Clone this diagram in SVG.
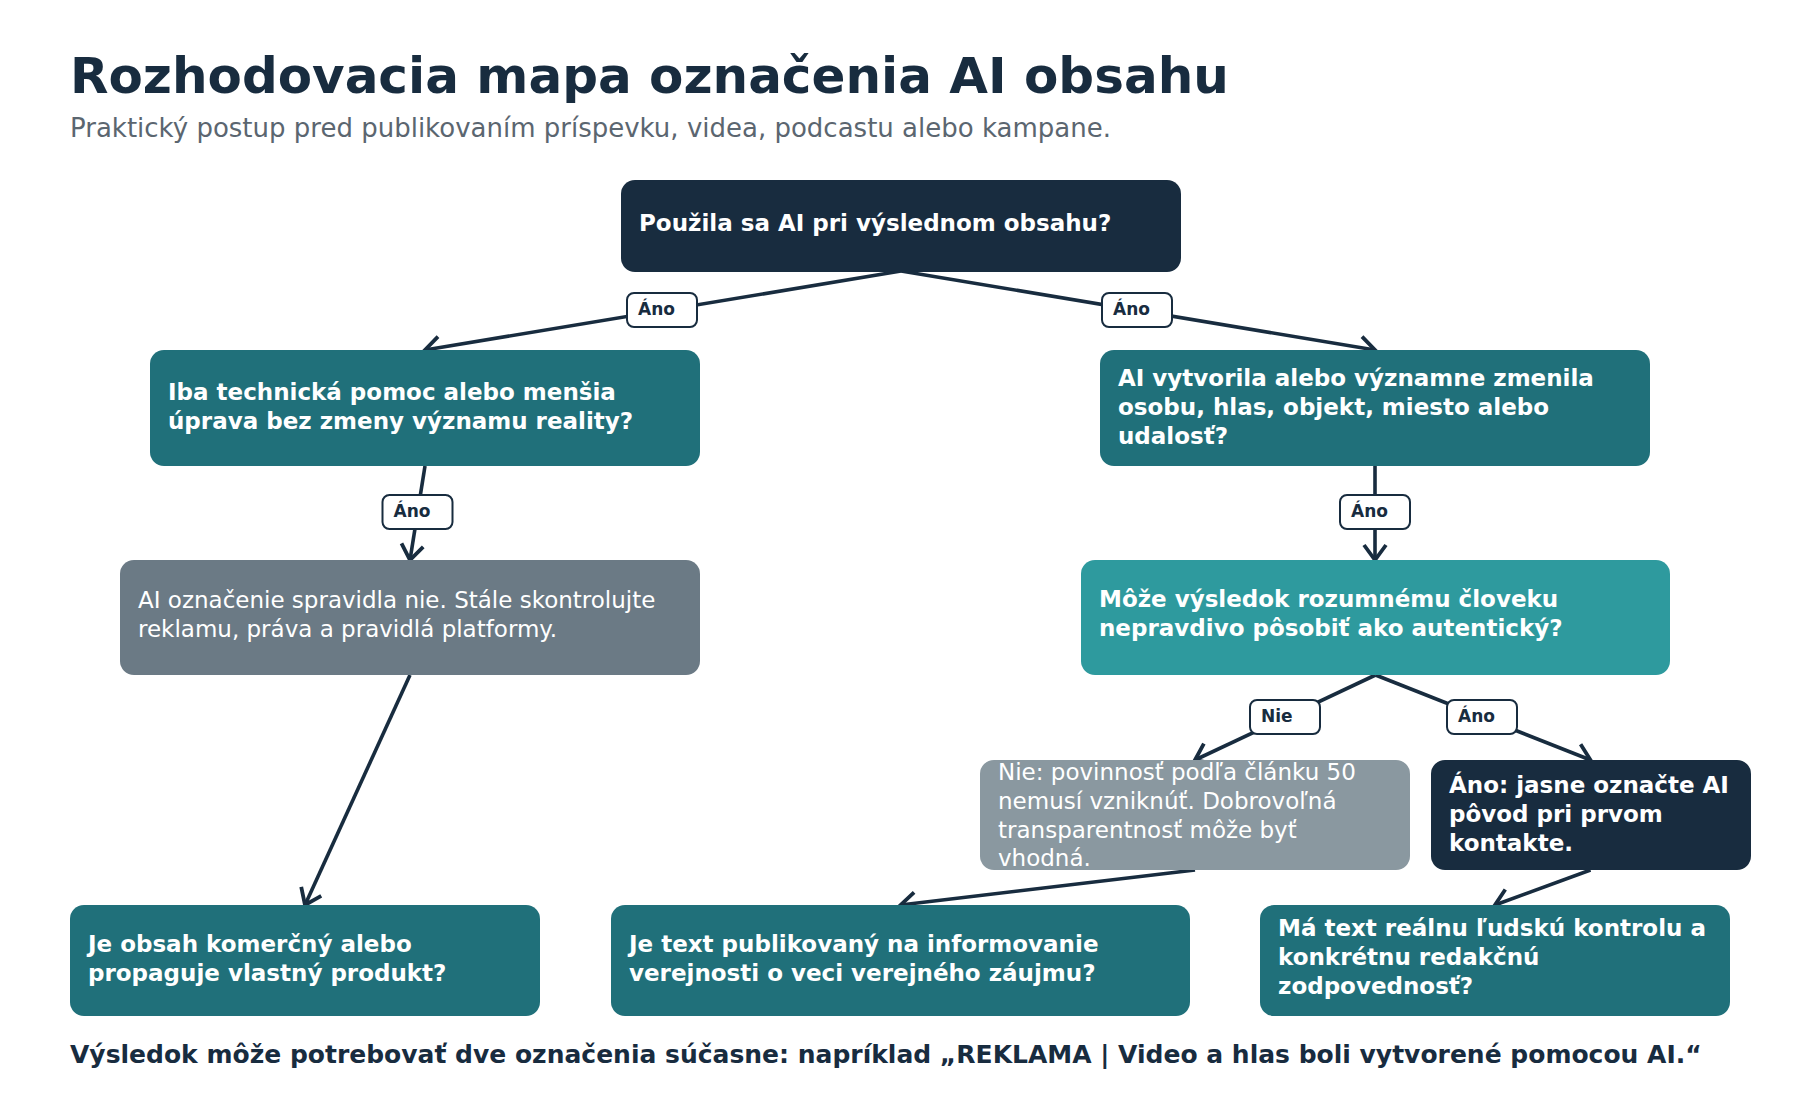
<svg xmlns="http://www.w3.org/2000/svg" width="1800" height="1100" viewBox="0 0 1800 1100">
<style>
  text { font-family: "DejaVu Sans", "Liberation Sans", sans-serif; }
  .title { font-size: 50px; font-weight: bold; fill: #182c3f; }
  .sub { font-size: 26px; fill: #5b6670; }
  .foot { font-size: 25px; font-weight: bold; fill: #182c3f; }
  .nt { font-size: 23px; font-weight: bold; fill: #ffffff; }
  .nn { font-size: 23px; fill: #ffffff; }
  .dark { fill: #182c3f; }
  .teal { fill: #20707a; }
  .lteal { fill: #2e9a9e; }
  .gray { fill: #6b7a85; }
  .lgray { fill: #8a98a0; }
  .edge { stroke: #182c3f; stroke-width: 3.6; fill: none; marker-end: url(#arr); }
  .lbl rect { fill: #ffffff; stroke: #182c3f; stroke-width: 2; }
  .lbl text { font-size: 17px; font-weight: bold; fill: #182c3f; }
</style>
<defs>
  <marker id="arr" viewBox="0 0 20 26" refX="17" refY="13" markerWidth="20" markerHeight="26" markerUnits="userSpaceOnUse" orient="auto">
    <path d="M2,2 L17,13 L2,24" fill="none" stroke="#182c3f" stroke-width="3.8"/>
  </marker>
</defs>
<rect width="1800" height="1100" fill="#ffffff"/>
<text class="title" x="70" y="93">Rozhodovacia mapa označenia AI obsahu</text>
<text class="sub" x="70" y="137">Praktický postup pred publikovaním príspevku, videa, podcastu alebo kampane.</text>

<g id="connectors">
  <path class="edge" d="M901,271 L425,350"/>
  <path class="edge" d="M901,271 L1375,350"/>
  <path class="edge" d="M425,466 L410,560"/>
  <path class="edge" d="M1375,466 L1375,560"/>
  <path class="edge" d="M410,675 L305,905"/>
  <path class="edge" d="M1375.5,675 L1195,760"/>
  <path class="edge" d="M1375.5,675 L1590.5,760"/>
  <path class="edge" d="M1195,870 L900.5,905"/>
  <path class="edge" d="M1590.5,870 L1495,905"/>
  <g class="lbl"><rect x="627" y="293" width="70" height="34" rx="7"/><text x="638" y="314.5">Áno</text></g>
  <g class="lbl"><rect x="1102" y="293" width="70" height="34" rx="7"/><text x="1113" y="314.5">Áno</text></g>
  <g class="lbl"><rect x="382.5" y="495" width="70" height="34" rx="7"/><text x="393.5" y="516.5">Áno</text></g>
  <g class="lbl"><rect x="1340" y="495" width="70" height="34" rx="7"/><text x="1351" y="516.5">Áno</text></g>
  <g class="lbl"><rect x="1250" y="700" width="70" height="34" rx="7"/><text x="1261" y="721.5">Nie</text></g>
  <g class="lbl"><rect x="1447" y="700" width="70" height="34" rx="7"/><text x="1458" y="721.5">Áno</text></g>
</g>

<g id="n-start">
  <rect class="dark" x="621" y="180" width="560" height="92" rx="14"/>
  <text class="nt" x="639" y="231">Použila sa AI pri výslednom obsahu?</text>
</g>
<g id="n-tech">
  <rect class="teal" x="150" y="350" width="550" height="116" rx="14"/>
  <text class="nt" x="168" y="400">Iba technická pomoc alebo menšia</text>
  <text class="nt" x="168" y="429">úprava bez zmeny významu reality?</text>
</g>
<g id="n-created">
  <rect class="teal" x="1100" y="350" width="550" height="116" rx="14"/>
  <text class="nt" x="1118" y="386">AI vytvorila alebo významne zmenila</text>
  <text class="nt" x="1118" y="415">osobu, hlas, objekt, miesto alebo</text>
  <text class="nt" x="1118" y="444">udalosť?</text>
</g>
<g id="n-nolabel">
  <rect class="gray" x="120" y="560" width="580" height="115" rx="14"/>
  <text class="nn" x="138" y="608">AI označenie spravidla nie. Stále skontrolujte</text>
  <text class="nn" x="138" y="637">reklamu, práva a pravidlá platformy.</text>
</g>
<g id="n-authentic">
  <rect class="lteal" x="1081" y="560" width="589" height="115" rx="14"/>
  <text class="nt" x="1099" y="607">Môže výsledok rozumnému človeku</text>
  <text class="nt" x="1099" y="636">nepravdivo pôsobiť ako autentický?</text>
</g>
<g id="n-nie">
  <rect class="lgray" x="980" y="760" width="430" height="110" rx="14"/>
  <text class="nn" x="998" y="780">Nie: povinnosť podľa článku 50</text>
  <text class="nn" x="998" y="809">nemusí vzniknúť. Dobrovoľná</text>
  <text class="nn" x="998" y="838">transparentnosť môže byť</text>
  <text class="nn" x="998" y="866">vhodná.</text>
</g>
<g id="n-ano">
  <rect class="dark" x="1431" y="760" width="320" height="110" rx="14"/>
  <text class="nt" x="1449" y="793">Áno: jasne označte AI</text>
  <text class="nt" x="1449" y="822">pôvod pri prvom</text>
  <text class="nt" x="1449" y="851">kontakte.</text>
</g>
<g id="n-commercial">
  <rect class="teal" x="70" y="905" width="470" height="111" rx="14"/>
  <text class="nt" x="88" y="952">Je obsah komerčný alebo</text>
  <text class="nt" x="88" y="981">propaguje vlastný produkt?</text>
</g>
<g id="n-public">
  <rect class="teal" x="611" y="905" width="579" height="111" rx="14"/>
  <text class="nt" x="629" y="952">Je text publikovaný na informovanie</text>
  <text class="nt" x="629" y="981">verejnosti o veci verejného záujmu?</text>
</g>
<g id="n-human">
  <rect class="teal" x="1260" y="905" width="470" height="111" rx="14"/>
  <text class="nt" x="1278" y="936">Má text reálnu ľudskú kontrolu a</text>
  <text class="nt" x="1278" y="965">konkrétnu redakčnú</text>
  <text class="nt" x="1278" y="994">zodpovednosť?</text>
</g>
<text class="foot" x="70" y="1063">Výsledok môže potrebovať dve označenia súčasne: napríklad „REKLAMA | Video a hlas boli vytvorené pomocou AI.“</text>
</svg>
